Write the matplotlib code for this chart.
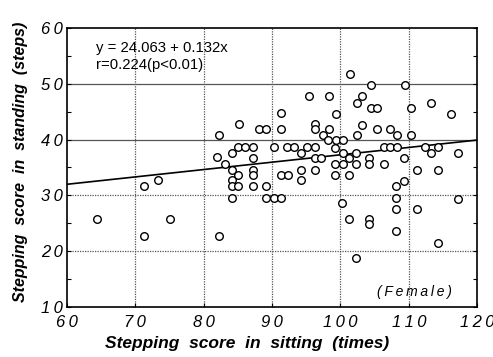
import numpy as np
import matplotlib
matplotlib.use("Agg")
import matplotlib.pyplot as plt
from matplotlib.ticker import MultipleLocator

plt.rcParams["font.family"] = ["Liberation Sans", "DejaVu Sans"]

# ── Data ────────────────────────────────────────────────────────────────────
sitting = [
    64.4, 71.2, 73.3, 71.2, 75.1, 82.2, 82.3, 82.0, 83.1, 84.1,
    84.1, 84.1, 84.1, 84.1, 85.2, 85.0, 85.0, 85.0, 86.1, 87.2,
    87.2, 87.2, 87.2, 87.2, 88.1, 89.1, 89.1, 89.1, 90.2, 90.2,
    91.3, 91.3, 91.3, 91.3, 92.2, 92.3, 93.2, 94.2, 94.2, 94.2,
    95.1, 95.4, 96.2, 96.3, 96.2, 96.2, 96.2, 97.4, 97.2, 98.3,
    98.3, 98.2, 99.3, 99.3, 99.2, 99.2, 99.2, 100.3, 100.3, 100.3,
    100.2, 101.4, 101.3, 101.3, 101.3, 102.4, 102.4, 102.3, 102.3, 102.3,
    103.2, 103.2, 104.4, 104.4, 104.2, 104.2, 104.2, 104.2, 105.4, 105.4,
    106.3, 106.3, 107.3, 107.3, 108.2, 108.2, 108.1, 108.1, 108.1, 108.1,
    109.4, 109.3, 109.3, 110.3, 110.3, 111.2, 111.2, 112.3, 113.3, 113.3,
    114.3, 114.3, 114.3, 116.2, 117.2, 117.2,
]
standing = [
    25.7, 31.7, 32.7, 22.7, 25.7, 22.8, 40.8, 36.9, 35.7, 37.6,
    34.6, 32.7, 31.7, 29.6, 42.7, 38.7, 33.6, 31.7, 38.7, 38.7,
    36.6, 34.5, 33.6, 31.7, 41.8, 41.8, 31.7, 29.6, 38.7, 29.6,
    44.7, 41.8, 33.6, 29.6, 38.7, 33.6, 38.7, 37.6, 34.6, 32.7,
    38.7, 47.8, 42.8, 41.8, 38.7, 36.6, 34.6, 40.8, 36.6, 47.8,
    41.8, 39.9, 44.6, 39.9, 38.5, 35.7, 33.6, 39.9, 37.6, 35.7,
    28.6, 51.7, 36.6, 33.6, 25.7, 46.6, 40.8, 37.5, 35.7, 18.7,
    47.8, 42.6, 49.8, 45.6, 36.6, 35.7, 25.7, 24.8, 45.6, 41.8,
    38.7, 35.7, 41.8, 38.7, 40.8, 38.7, 31.7, 29.6, 27.5, 23.7,
    49.8, 36.6, 32.6, 45.6, 40.8, 34.6, 27.5, 38.6, 46.5, 37.5,
    38.6, 34.6, 21.5, 44.5, 37.5, 29.4,
]

intercept = 24.063
slope = 0.132
r_value = 0.224

x_ticks = [60, 70, 80, 90, 100, 110, 120]
y_ticks = [10, 20, 30, 40, 50, 60]


def spaced(v):
    # the scan prints digits with wide tracking
    return "\u2009".join(str(v))


# ── Figure ──────────────────────────────────────────────────────────────────
fig = plt.figure(figsize=(4.93, 3.57), dpi=100)
ax = fig.add_axes([0.136, 0.14, 0.832, 0.782])

ax.set_xlim(60, 120)
ax.set_ylim(10, 60)
ax.set_xticks(x_ticks)
ax.set_yticks(y_ticks)
ax.yaxis.set_minor_locator(MultipleLocator(5))
ax.set_xticklabels([spaced(v) for v in x_ticks], fontsize=12, style="italic")
ax.set_yticklabels([spaced(v) for v in y_ticks], fontsize=12, style="italic")
ax.tick_params(which="both", direction="in", right=True, top=False,
               length=3, width=0.8)
ax.tick_params(axis="x", pad=6)
ax.tick_params(axis="y", pad=3)

# gridlines: solid at 40/50, dotted elsewhere
for v in y_ticks[1:-1]:
    if v >= 40:
        ax.axhline(v, color="#555555", lw=0.9, zorder=0)
    else:
        ax.axhline(v, color="#555555", lw=0.9, ls=(0, (1, 1)), zorder=0)
for v in x_ticks[1:-1]:
    ax.axvline(v, color="#555555", lw=0.9, ls=(0, (1, 1)), zorder=0)

for s in ax.spines.values():
    s.set_linewidth(1.2)

# regression line
xl = np.array([60, 120])
ax.plot(xl, intercept + slope * xl, color="black", lw=1.2, zorder=2)

ax.scatter(sitting, standing, s=30, facecolors="white", edgecolors="black",
           linewidths=1.0, zorder=3)

ax.text(0.071, 0.928, f"y = {intercept:.3f} + {slope:.3f}x", transform=ax.transAxes,
        fontsize=10.7, va="center", ha="left")
ax.text(0.071, 0.867, f"r={r_value:.3f}(p<0.01)", transform=ax.transAxes,
        fontsize=10.7, va="center", ha="left")
ax.text(0.939, 0.054, "(\u2009F\u2009e\u2009m\u2009a\u2009l\u2009e\u2009)",
        transform=ax.transAxes, fontsize=10, style="italic", ha="right",
        va="center")

ax.set_xlabel("Stepping  score  in  sitting  (times)", fontsize=12.5,
              fontweight="bold", style="italic")
ax.set_ylabel("Stepping  score  in  standing  (steps)", fontsize=11.5,
              fontweight="bold", style="italic")
ax.xaxis.set_label_coords(0.44, -0.105)
ax.yaxis.set_label_coords(-0.095, 0.52)

fig.savefig("out.png", dpi=100)
